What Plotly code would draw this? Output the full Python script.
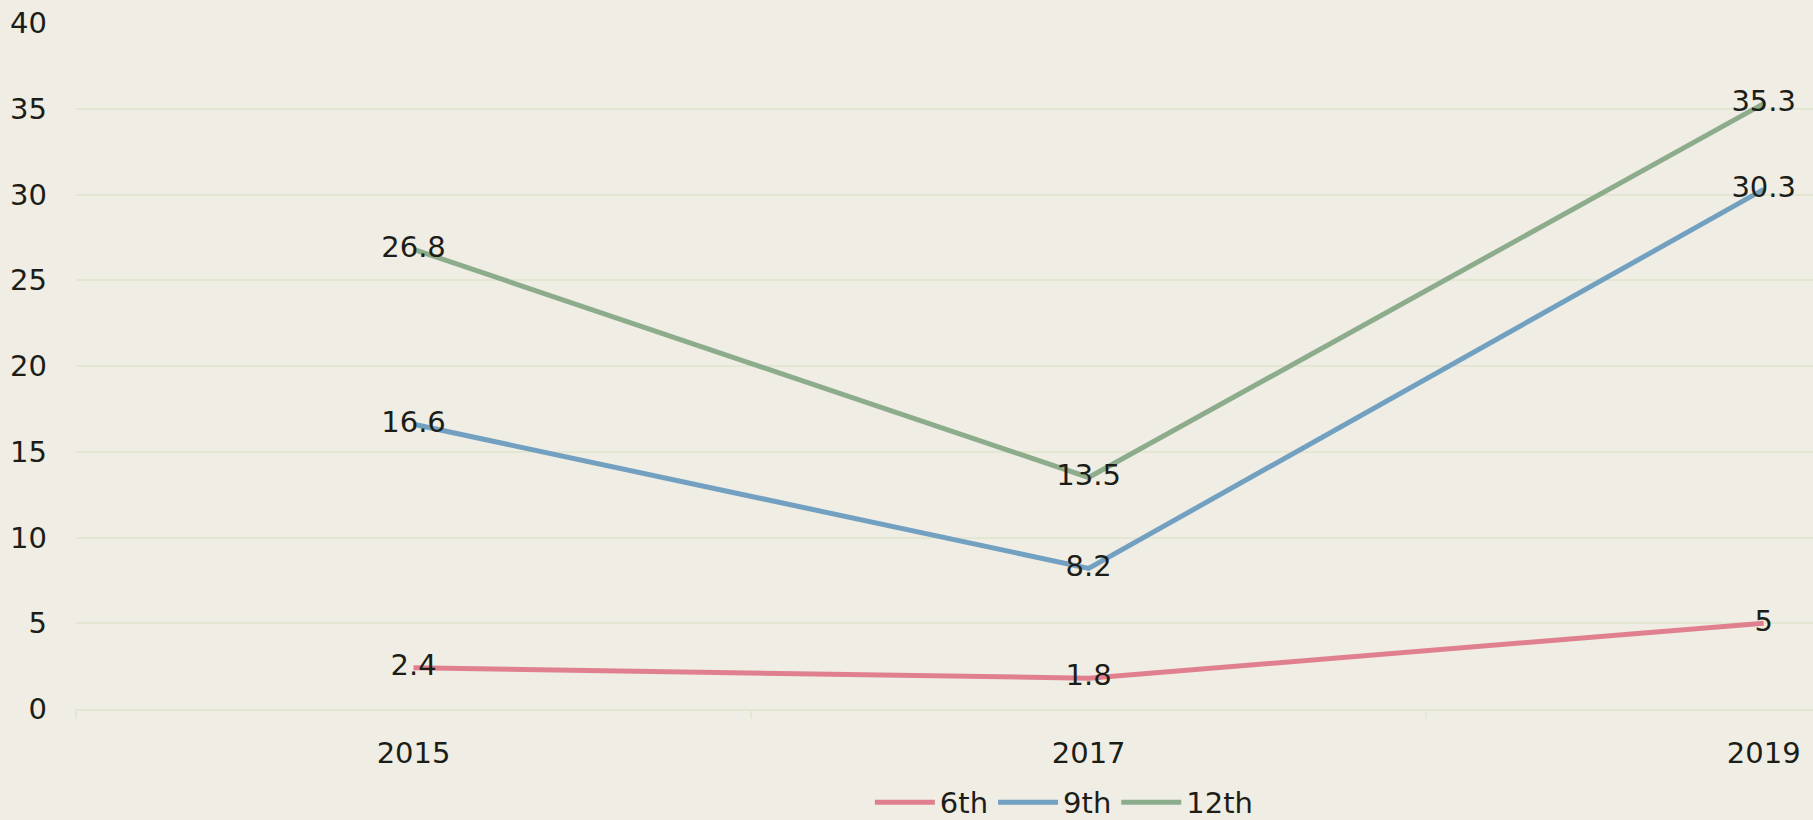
import plotly.graph_objects as go

years = ["2015", "2017", "2019"]
grade6 = [2.4, 1.8, 5]
grade9 = [16.6, 8.2, 30.3]
grade12 = [26.8, 13.5, 35.3]
series_names = ["6th", "9th", "12th"]
colors = ["#e0808f", "#72a0c1", "#8cac8c"]
y_ticks = [0, 5, 10, 15, 20, 25, 30, 35, 40]

FONT = "DejaVu Sans"
FS = 29
TXT = "#1d1d17"
BG = "#efede4"
GRID = "#e3e7d1"

fig = go.Figure()
for name, vals, col in zip(series_names, [grade6, grade9, grade12], colors):
    fig.add_trace(go.Scatter(
        x=years, y=vals, name=name, mode="lines+text",
        line=dict(color=col, width=5),
        text=[f"{v:g}" for v in vals], textposition="middle center",
        textfont=dict(family=FONT, size=FS, color=TXT),
        cliponaxis=False,
    ))

fig.update_layout(
    width=1813, height=820,
    paper_bgcolor=BG, plot_bgcolor=BG,
    margin=dict(l=76, r=0, t=23, b=111, autoexpand=False),
    font=dict(family=FONT, size=FS, color=TXT),
    showlegend=True,
    legend=dict(orientation="h", x=0.569, xanchor="center", y=-0.1732, yanchor="bottom",
                font=dict(family=FONT, size=FS, color=TXT), itemwidth=60,
                bgcolor="rgba(0,0,0,0)", traceorder="normal"),
    xaxis=dict(type="category", range=[-0.5, 2.073], showgrid=False,
               showline=True, linecolor=GRID, linewidth=2,
               ticks="outside", tickson="boundaries", ticklen=8, tickcolor=GRID, tickwidth=2,
               tickfont=dict(family=FONT, size=FS, color=TXT), ticklabelstandoff=17),
    yaxis=dict(range=[0, 40], tickvals=y_ticks, showgrid=True, gridcolor=GRID, gridwidth=1.5,
               zeroline=False, showline=False, ticks="",
               tickfont=dict(family=FONT, size=FS, color=TXT), ticklabelstandoff=28),
)

fig.write_html("out.html", config={"displayModeBar": False},
               post_script="document.body.style.margin='0';")
